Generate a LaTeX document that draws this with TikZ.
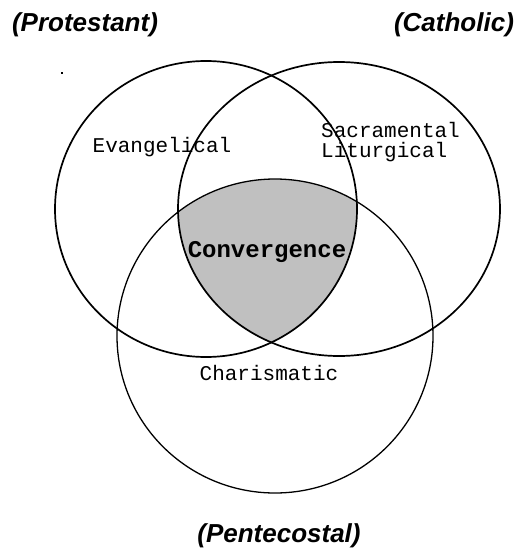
\documentclass[tikz,border=0pt]{standalone}
\usepackage{fontspec}
\setmainfont{Liberation Sans}
\setmonofont{Liberation Mono}
\usetikzlibrary{
  positioning,
}
\tikzstyle{ring} = [
  line width=1.7pt,
  black,
]
\tikzstyle{church} = [
  font=\bfseries\itshape\fontsize{26}{30}\selectfont,
  anchor=base,
  inner sep=0pt,
]
\tikzstyle{stream} = [
  font=\ttfamily\fontsize{21}{20}\selectfont,
  anchor=base,
  inner sep=0pt,
]
\definecolor{convgray}{RGB}{192, 192, 192}

\begin{document}
\begin{tikzpicture}[x=1pt,y=-1pt]
        \useasboundingbox (0,0) rectangle (520,554);
        \coordinate (evc) at (206,209);
        \coordinate (sac) at (339,209);
        \coordinate (chc) at (275,336);

        % shaded middle
        \begin{scope}
            \clip (evc) ellipse [x radius=151, y radius=148];
            \clip (sac) ellipse [x radius=161, y radius=147];
            \fill[convgray] (chc) ellipse [x radius=158, y radius=157];
        \end{scope}

        \draw[ring] (evc) ellipse [x radius=151, y radius=148];
        \draw[ring] (sac) ellipse [x radius=161, y radius=147];
        \draw[ring,line width=1.3pt] (chc) ellipse [x radius=158, y radius=157];
        \fill (61,72) rectangle (63,74);

        \node[church] (prot) at (85,31) {(Protestant)};
        \node[church] (cath) at (454,31) {(Catholic)};
        \node[church] (pent) at (279,542) {(Pentecostal)};

        \node[stream] (evan) at (162,152) {Evangelical};
        \node[stream,anchor=base west] (sacr) at (321,137) {Sacramental};
        \node[stream,anchor=base west] (litu) at ([yshift=-20pt]sacr.base west) {Liturgical};
        \node[stream] (char) at (269,380) {Charismatic};
        \node[stream,font=\ttfamily\bfseries\fontsize{24}{24}\selectfont] (conv) at (267,257) {Convergence};
    \end{tikzpicture}
\end{document}
